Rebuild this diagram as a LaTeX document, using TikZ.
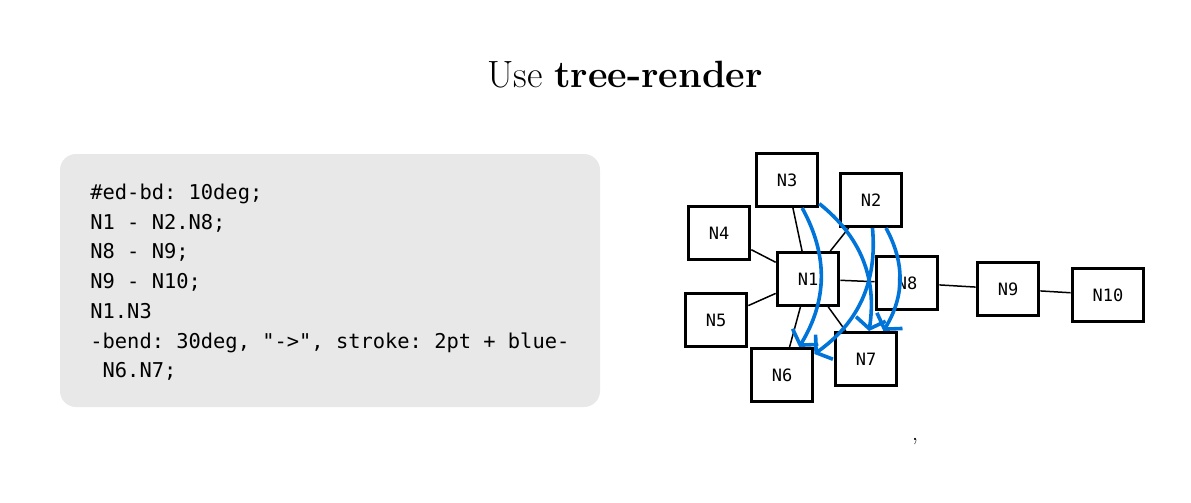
\documentclass[tikz,border=0pt]{standalone}
\usepackage{fontspec}
\setmonofont{DejaVu Sans Mono}
\usetikzlibrary{arrows.meta}
\definecolor{codebg}{HTML}{E8E8E8}
\definecolor{edgeblue}{HTML}{0074D9}
\tikzstyle{box} = [draw, line width=1.5pt, font=\fontsize{8.5}{10}\ttfamily, inner xsep=10.3pt, inner ysep=0pt, minimum height=26.5pt]
\tikzstyle{link} = [line width=0.75pt]
\tikzstyle{bent} = [edgeblue, line width=1.8pt, -{Straight Barb[length=5pt,width=15pt]}, bend left=30]
\tikzstyle{code} = [anchor=base west, inner sep=0pt, font=\fontsize{10.2}{12}\ttfamily]

\begin{document}
\begin{tikzpicture}[x=0.5pt, y=-0.5pt]
\useasboundingbox (0,0) rectangle (1191,503);
\node[anchor=base, font=\fontsize{19}{23}\selectfont] (title) at (625,87) {Use \textbf{tree-render}};

% code panel
\fill[codebg, rounded corners=8pt] (60,154) rectangle (600,407);
\node[code] (code1) at (90,199.5) {\#ed-bd: 10deg;};
\node[code] (code2) at (90,229.2) {N1 - N2.N8;};
\node[code] (code3) at (90,258.9) {N8 - N9;};
\node[code] (code4) at (90,288.6) {N9 - N10;};
\node[code] (code5) at (90,318.3) {N1.N3};
\node[code] (code6) at (90,348) {-bend: 30deg, "->", stroke: 2pt + blue-};
\node[code] (code7) at (90,377.7) {\ N6.N7;};

% graph
\node[box] (n3) at (787,180) {N3};
\node[box] (n2) at (871,200) {N2};
\node[box] (n4) at (719,233) {N4};
\node[box] (n1) at (808,279) {N1};
\node[box] (n8) at (907,283) {N8};
\node[box] (n5) at (716,320) {N5};
\node[box] (n6) at (782,375) {N6};
\node[box] (n7) at (866,359) {N7};
\node[box] (n9) at (1008,289) {N9};
\node[box] (n10) at (1108,295) {N10};

\draw[link] (n1) -- (n3);
\draw[link] (n1) -- (n2);
\draw[link] (n1) -- (n4);
\draw[link] (n1) -- (n5);
\draw[link] (n1) -- (n6);
\draw[link] (n1) -- (n7);
\draw[link] (n1) -- (n8);
\draw[link] (n8) -- (n9);
\draw[link] (n9) -- (n10);

\draw[bent] (n3) to (n6);
\draw[bent] (n3) to (n7);
\draw[bent] (n2) to (n6);
\draw[bent] (n2) to (n7);

\node[anchor=base, font=\fontsize{11}{13}\selectfont] (comma) at (915,440) {,};
\end{tikzpicture}
\end{document}
